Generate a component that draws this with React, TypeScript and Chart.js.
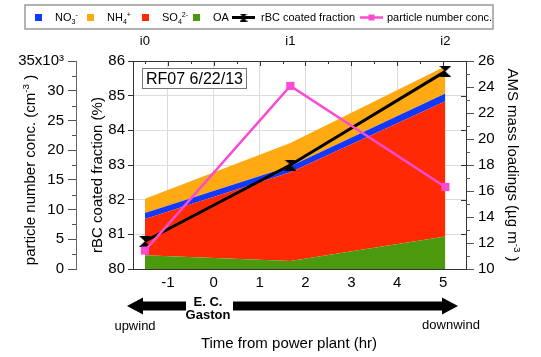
import React, { useEffect, useRef } from "react";
import { Chart, registerables } from "chart.js";

Chart.register(...registerables);

// ---------------- data ----------------
const stationLabels = ["i0", "i1", "i2"];
const hoursFromPlant = [-1.5, 1.67, 5.05];
const timeTicks = [-1, 0, 1, 2, 3, 4, 5];
const oaMass = [11.05, 10.62, 12.5];
const so4Mass = [2.8, 6.83, 10.4];
const no3Mass = [0.45, 0.45, 0.6];
const nh4Mass = [1.1, 1.8, 2.1];
const rbcCoatedFraction = [80.8, 83.0, 85.7];
const particleNumberConc = [3100, 30800, 13800];
const pnTicks = [0, 5000, 10000, 15000, 20000, 25000, 30000, 35000];
const rbcTicks = [80, 81, 82, 83, 84, 85, 86];
const amsTicks = [10, 12, 14, 16, 18, 20, 22, 24, 26];

// ---------------- styling ----------------
const FONT = "'Liberation Sans', Arial, Helvetica, sans-serif";
const C_NO3 = "#1239fb";
const C_NH4 = "#ffaa12";
const C_SO4 = "#ff2a04";
const C_OA = "#4b9a0e";
const C_PINK = "#fb4bd3";
const FRAME = "#333";

type Part = { t: string; s?: "sup" | "sub" };

function drawRich(
  ctx: CanvasRenderingContext2D,
  parts: Part[],
  cx: number,
  cy: number,
  size: number,
  opts: { angle?: number; align?: "left" | "center"; weight?: string } = {}
) {
  const fontFor = (p: Part) =>
    `${opts.weight ?? "normal"} ${p.s ? size * 0.65 : size}px ${FONT}`;
  ctx.save();
  ctx.translate(cx, cy);
  if (opts.angle) ctx.rotate(opts.angle);
  let w = 0;
  for (const p of parts) {
    ctx.font = fontFor(p);
    w += ctx.measureText(p.t).width;
  }
  let x = opts.align === "left" ? 0 : -w / 2;
  ctx.textBaseline = "alphabetic";
  ctx.textAlign = "left";
  ctx.fillStyle = "#000";
  const base = size * 0.36;
  for (const p of parts) {
    ctx.font = fontFor(p);
    const dy = p.s === "sup" ? -size * 0.42 : p.s === "sub" ? size * 0.22 : 0;
    ctx.fillText(p.t, x, base + dy);
    x += ctx.measureText(p.t).width;
  }
  ctx.restore();
  return w;
}

function makeHourglass(w: number, h: number) {
  const c = document.createElement("canvas");
  c.width = w;
  c.height = h;
  const g = c.getContext("2d")!;
  g.fillStyle = "#000";
  g.beginPath();
  g.moveTo(0, 0);
  g.lineTo(w, 0);
  g.lineTo(w / 2, h / 2);
  g.lineTo(w, h);
  g.lineTo(0, h);
  g.lineTo(w / 2, h / 2);
  g.closePath();
  g.fill();
  return c;
}

function pts(values: number[]) {
  return values.map((v, i) => ({ x: hoursFromPlant[i], y: v }));
}

function line(ctx: CanvasRenderingContext2D, x1: number, y1: number, x2: number, y2: number) {
  ctx.beginPath();
  ctx.moveTo(x1, y1);
  ctx.lineTo(x2, y2);
  ctx.stroke();
}

const decorPlugin = {
  id: "decor",
  afterDraw(chart: any) {
    const ctx: CanvasRenderingContext2D = chart.ctx;
    const area = chart.chartArea;
    const { x, yPN, yRbc, yAms } = chart.scales;
    ctx.save();

    // minor / mirror ticks
    ctx.lineWidth = 1;
    ctx.strokeStyle = "#555";
    for (let v = 2500; v < 35000; v += 5000) {
      const y = Math.round(yPN.getPixelForValue(v)) + 0.5;
      line(ctx, yPN.right - 4, y, yPN.right, y);
    }
    for (let v = 11; v < 26; v += 2) {
      const y = Math.round(yAms.getPixelForValue(v)) + 0.5;
      line(ctx, yAms.left, y, yAms.left + 4, y);
    }
    ctx.strokeStyle = FRAME;
    for (let v = 81; v < 86; v += 1) {
      const y = Math.round(yRbc.getPixelForValue(v)) + 0.5;
      line(ctx, area.right - 5, y, area.right, y);
    }
    for (let v = -1.5; v <= 5.01; v += 0.5) {
      const px = Math.round(x.getPixelForValue(v)) + 0.5;
      const len = Number.isInteger(v) ? 5 : 3;
      line(ctx, px, area.top, px, area.top + len);
    }

    // legend
    ctx.strokeStyle = "#9a9a9a";
    ctx.lineWidth = 1.5;
    ctx.strokeRect(25, 5, 468, 24);
    const ly = 17.5;
    const sq = (c: string, sx: number) => {
      ctx.fillStyle = c;
      ctx.fillRect(sx, ly - 3.5, 7, 7);
    };
    sq(C_NO3, 35);
    drawRich(ctx, [{ t: "NO" }, { t: "3", s: "sub" }, { t: "-", s: "sup" }], 55, ly, 11, { align: "left" });
    sq(C_NH4, 87);
    drawRich(ctx, [{ t: "NH" }, { t: "4", s: "sub" }, { t: "+", s: "sup" }], 107, ly, 11, { align: "left" });
    sq(C_SO4, 142);
    drawRich(ctx, [{ t: "SO" }, { t: "4", s: "sub" }, { t: "2-", s: "sup" }], 162, ly, 11, { align: "left" });
    sq(C_OA, 193);
    drawRich(ctx, [{ t: "OA" }], 213, ly, 11, { align: "left" });
    ctx.strokeStyle = "#000";
    ctx.lineWidth = 3;
    line(ctx, 232, ly, 255, ly);
    ctx.drawImage(makeHourglass(8, 8), 239.5, ly - 4);
    drawRich(ctx, [{ t: "rBC coated fraction" }], 261, ly, 11, { align: "left" });
    ctx.strokeStyle = C_PINK;
    ctx.lineWidth = 2.5;
    line(ctx, 360, ly, 383, ly);
    ctx.fillStyle = C_PINK;
    ctx.fillRect(368.5, ly - 3, 6, 6);
    drawRich(ctx, [{ t: "particle number conc." }], 387, ly, 11, { align: "left" });

    // flight label box
    ctx.fillStyle = "#fff";
    ctx.fillRect(142, 68, 104, 20);
    ctx.strokeStyle = "#777";
    ctx.lineWidth = 1;
    ctx.strokeRect(142.5, 68.5, 104, 20);
    drawRich(ctx, [{ t: "RF07 6/22/13" }], 194.5, 78.5, 16);

    // axis titles
    drawRich(ctx, [{ t: "particle number conc. (cm" }, { t: "-3", s: "sup" }, { t: " )" }], 30, 170, 15, { angle: -Math.PI / 2 });
    drawRich(ctx, [{ t: "rBC coated fraction (%)" }], 97, 175, 15, { angle: -Math.PI / 2 });
    drawRich(ctx, [{ t: "AMS mass loadings (\u00b5g m" }, { t: "-3", s: "sup" }, { t: " )" }], 513, 165, 15, { angle: Math.PI / 2 });
    drawRich(ctx, [{ t: "Time from power plant (hr)" }], 289, 343, 15);

    // arrows
    ctx.fillStyle = "#000";
    const ay = 306;
    ctx.fillRect(141, ay - 4.5, 45, 9);
    ctx.beginPath();
    ctx.moveTo(127, ay);
    ctx.lineTo(143, ay - 8.5);
    ctx.lineTo(143, ay + 8.5);
    ctx.closePath();
    ctx.fill();
    ctx.fillRect(233, ay - 4.5, 211, 9);
    ctx.beginPath();
    ctx.moveTo(458, ay);
    ctx.lineTo(442, ay - 8.5);
    ctx.lineTo(442, ay + 8.5);
    ctx.closePath();
    ctx.fill();

    drawRich(ctx, [{ t: "E. C." }], 208, 301, 13, { weight: "bold" });
    drawRich(ctx, [{ t: "Gaston" }], 208, 314.5, 13, { weight: "bold" });
    drawRich(ctx, [{ t: "upwind" }], 135, 325, 13);
    drawRich(ctx, [{ t: "downwind" }], 451, 324, 13);

    ctx.restore();
  },
};

export default function App() {
  const ref = useRef<HTMLCanvasElement>(null);

  useEffect(() => {
    const canvas = ref.current;
    if (!canvas) return;
    Chart.defaults.font.family = FONT;
    Chart.defaults.font.size = 15;
    Chart.defaults.color = "#000";

    const hourglass = makeHourglass(12, 11);

    const chart = new Chart(canvas, {
      type: "line",
      data: {
        datasets: [
          {
            label: "OA",
            data: pts(oaMass),
            xAxisID: "x",
            yAxisID: "yAms",
            backgroundColor: C_OA,
            borderColor: "rgba(0,0,0,0)",
            borderWidth: 0,
            pointRadius: 0,
            fill: "start",
            order: 2,
          },
          {
            label: "SO4",
            data: pts(so4Mass),
            xAxisID: "x",
            yAxisID: "yAms",
            backgroundColor: C_SO4,
            borderColor: "rgba(0,0,0,0)",
            borderWidth: 0,
            pointRadius: 0,
            fill: "-1",
            order: 2,
          },
          {
            label: "NO3",
            data: pts(no3Mass),
            xAxisID: "x",
            yAxisID: "yAms",
            backgroundColor: C_NO3,
            borderColor: "rgba(0,0,0,0)",
            borderWidth: 0,
            pointRadius: 0,
            fill: "-1",
            order: 2,
          },
          {
            label: "NH4",
            data: pts(nh4Mass),
            xAxisID: "x",
            yAxisID: "yAms",
            backgroundColor: C_NH4,
            borderColor: "rgba(0,0,0,0)",
            borderWidth: 0,
            pointRadius: 0,
            fill: "-1",
            order: 2,
          },
          {
            label: "rBC coated fraction",
            data: pts(rbcCoatedFraction),
            xAxisID: "x",
            yAxisID: "yRbc",
            borderColor: "#000",
            backgroundColor: "#000",
            borderWidth: 3,
            pointStyle: hourglass as any,
            pointRadius: 6,
            fill: false,
            order: 1,
          },
          {
            label: "particle number conc.",
            data: pts(particleNumberConc),
            xAxisID: "x",
            yAxisID: "yPN",
            borderColor: C_PINK,
            backgroundColor: C_PINK,
            pointBackgroundColor: C_PINK,
            pointBorderWidth: 0,
            borderWidth: 2.5,
            pointStyle: "rect",
            pointRadius: 5.8,
            fill: false,
            order: 0,
          },
        ],
      },
      options: {
        responsive: false,
        animation: false,
        events: [],
        layout: { padding: { top: 33, left: 0, right: 0, bottom: 0 } },
        plugins: {
          legend: { display: false },
          tooltip: { enabled: false },
        },
        scales: {
          x: {
            type: "linear",
            position: "bottom",
            min: -1.76,
            max: 5.5,
            afterBuildTicks: (s: any) => {
              s.ticks = timeTicks.map((v) => ({ value: v }));
            },
            ticks: { padding: 5, autoSkip: false, maxRotation: 0, font: { size: 15 } },
            grid: { color: "#dcdcdc", drawTicks: false },
            border: { color: FRAME },
            afterFit: (s: any) => {
              s.height = 88;
            },
          },
          x2: {
            type: "linear",
            position: "top",
            min: -1.76,
            max: 5.5,
            afterBuildTicks: (s: any) => {
              s.ticks = hoursFromPlant.map((v) => ({ value: v }));
            },
            ticks: {
              padding: 12,
              autoSkip: false,
              maxRotation: 0,
              font: { size: 13 },
              callback: (_v: any, i: number) => stationLabels[i],
            },
            grid: { display: false, drawTicks: false },
            border: { display: true, color: FRAME },
            afterFit: (s: any) => {
              s.height = 28;
            },
          },
          yRbc: {
            type: "linear",
            position: "left",
            weight: 0,
            min: 80,
            max: 86,
            afterBuildTicks: (s: any) => {
              s.ticks = rbcTicks.map((v) => ({ value: v }));
            },
            ticks: { padding: 3, font: { size: 15 } },
            grid: { color: "#dcdcdc", tickLength: 5, tickColor: FRAME },
            border: { color: FRAME },
            afterFit: (s: any) => {
              s.width = 57;
            },
          },
          yPN: {
            type: "linear",
            position: "left",
            weight: 10,
            min: 0,
            max: 35000,
            afterBuildTicks: (s: any) => {
              s.ticks = pnTicks.map((v) => ({ value: v }));
            },
            ticks: {
              padding: 4,
              font: { size: 15 },
              callback: (v: any) => (v === 35000 ? "35x10\u00b3" : String(v / 1000)),
            },
            grid: { drawOnChartArea: false, tickLength: 8, tickColor: "#555" },
            border: { color: "#666" },
            afterFit: (s: any) => {
              s.width = 76;
            },
          },
          yAms: {
            type: "linear",
            position: "right",
            stacked: true,
            min: 10,
            max: 26,
            afterBuildTicks: (s: any) => {
              s.ticks = amsTicks.map((v) => ({ value: v }));
            },
            ticks: { padding: 4, font: { size: 15 } },
            grid: { drawOnChartArea: false, tickLength: 8, tickColor: "#555" },
            border: { color: FRAME },
            afterFit: (s: any) => {
              s.width = 75;
            },
          },
        },
      } as any,
      plugins: [decorPlugin],
    });

    return () => chart.destroy();
  }, []);

  return (
    <div style={{ position: "absolute", left: 0, top: 0, width: 541, height: 357, background: "#fff" }}>
      <canvas ref={ref} width={541} height={357} style={{ display: "block", width: 541, height: 357 }} />
    </div>
  );
}
